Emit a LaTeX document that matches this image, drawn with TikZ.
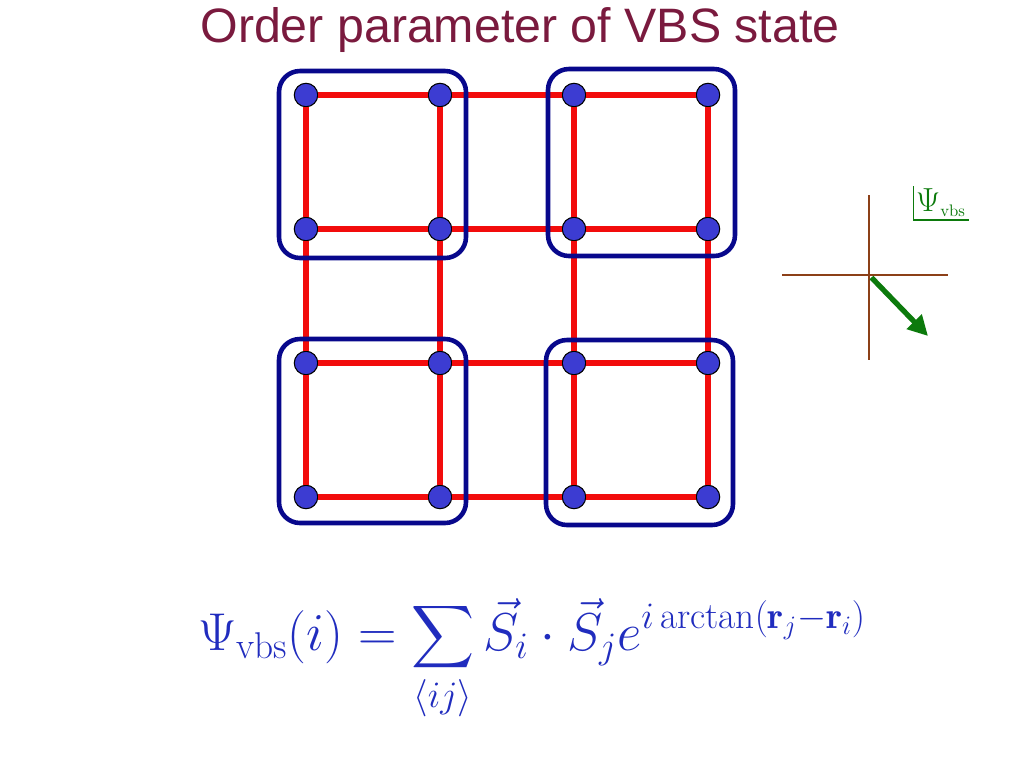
\RequirePackage{fix-cm}
\documentclass[tikz,border=0pt]{standalone}
\usepackage{xcolor}
\usepackage{amsmath}
\usepackage{fontspec}
\newfontfamily\titlefont{Liberation Sans}
\usepackage{tikz}
\usetikzlibrary{positioning, arrows.meta}

\definecolor{titlered}{RGB}{122,26,62}
\definecolor{bondred}{RGB}{242,12,12}
\definecolor{boxblue}{RGB}{8,8,140}
\definecolor{siteblue}{RGB}{60,60,210}
\definecolor{axisbrown}{RGB}{140,64,24}
\definecolor{arrowgreen}{RGB}{12,122,12}
\definecolor{formulablue}{RGB}{32,44,190}

\begin{document}
\begin{tikzpicture}[
            x=0.02cm, y=-0.02cm,
            site/.style={circle, draw=black, fill=siteblue, minimum size=0.47cm, inner sep=0pt, line width=0.6pt},
            bond/.style={bondred, line width=3.2pt},
            plaquette/.style={boxblue, line width=2.6pt, rounded corners=0.42cm},
            axisline/.style={axisbrown, line width=0.8pt}
        ]
            \useasboundingbox (0,0) rectangle (1024,768);

            % Title
            \node[text=titlered, font=\titlefont\fontsize{27.5}{30}\selectfont] (title) at (520,30) {Order parameter of VBS state};

            % Lattice sites
            \foreach \i/\x in {1/306,2/440,3/574,4/708}
              \foreach \j/\y in {1/95,2/229,3/363,4/497}
                \node[site] (s\i\j) at (\x,\y) {};

            % Bonds (rows and columns)
            \foreach \j in {1,2,3,4} {
              \draw[bond] (s1\j) -- (s2\j);
              \draw[bond] (s2\j) -- (s3\j);
              \draw[bond] (s3\j) -- (s4\j);
              \draw[bond] (s\j1) -- (s\j2);
              \draw[bond] (s\j2) -- (s\j3);
              \draw[bond] (s\j3) -- (s\j4);
            }

            % Plaquettes
            \draw[plaquette] ([shift={(-27,-24)}]s11.center) rectangle ([shift={(26,29)}]s22.center);
            \draw[plaquette] ([shift={(-26,-26)}]s31.center) rectangle ([shift={(27,27)}]s42.center);
            \draw[plaquette] ([shift={(-27,-24)}]s13.center) rectangle ([shift={(26,26)}]s24.center);
            \draw[plaquette] ([shift={(-28,-23)}]s33.center) rectangle ([shift={(25,28)}]s44.center);

            % Order parameter plane
            \coordinate (o) at (869,275);
            \coordinate (xl) at (782,275);
            \coordinate (xr) at (948,275);
            \coordinate (yt) at (869,195);
            \coordinate (yb) at (869,360);
            \coordinate (tip) at (928,336);
            \draw[axisline] (xl) -- (xr);
            \draw[axisbrown, line width=1.4pt] (xl) -- (833,275);
            \draw[axisline] (yt) -- (yb);
            \draw[-{Triangle[length=4mm, width=4mm]}, arrowgreen, line width=3pt, shorten <=2pt] (o) -- (tip);
            \node[text=arrowgreen, inner sep=1.5pt, font=\fontsize{19}{21}\selectfont] (psi) at (941,203) {$\Psi_{\scriptscriptstyle\rm vbs}$};
            \draw[arrowgreen, line width=0.7pt] (psi.north west) |- (psi.south east);

            % Formula
            \node[text=formulablue, font=\fontsize{30.3}{35}\selectfont] (formula) at (532,660)
              {$\displaystyle \Psi_{\rm vbs}(i) = \sum_{\langle ij\rangle} \vec{S}_i\cdot\vec{S}_j e^{i\arctan(\mathbf{r}_j-\mathbf{r}_i)}$};

        \end{tikzpicture}
\end{document}
